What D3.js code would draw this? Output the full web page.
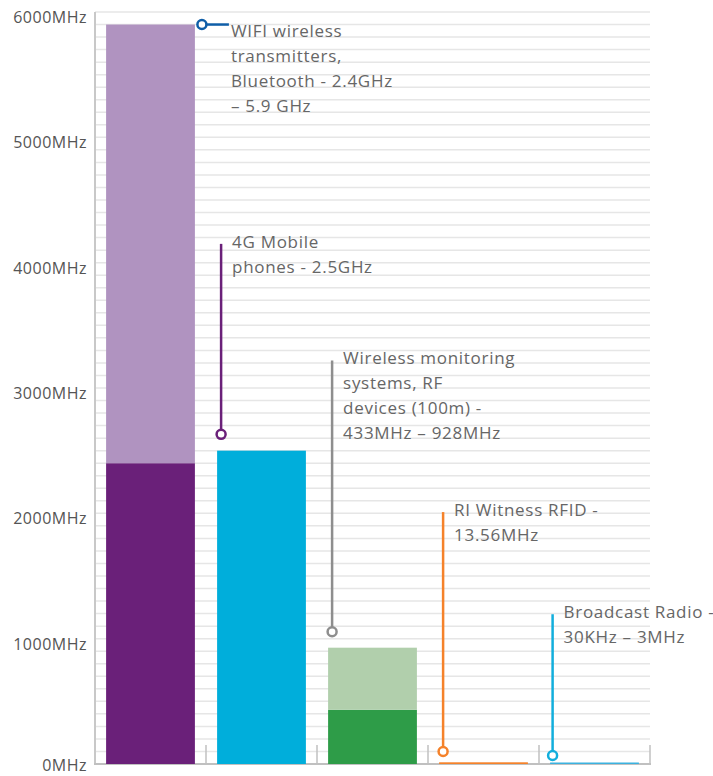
<!DOCTYPE html>
<html>
<head>
<meta charset="utf-8">
<script src="https://cdn.jsdelivr.net/npm/d3@7"></script>
<style>
  body { margin: 0; background: #fff; }
  svg text { font-family: "Open Sans", Lato, sans-serif; }
</style>
</head>
<body>
<script>
// frequency bands, MHz
const categories = ['wifi', 'mobile', 'monitoring', 'rfid', 'radio'];
const lowValues = [2400, 2500, 433, 13.56, 0.03];
const highValues = [5900, 2500, 928, 13.56, 3];
const lowColors = ['#6a2079', '#00aedb', '#2e9c48', '#f5822a', '#3cb2df'];
const highColors = ['#b093c0', '#00aedb', '#b1cfac', '#f5822a', '#3cb2df'];
const noteColors = ['#0f5ea8', '#6a2079', '#8e8e8e', '#f5822a', '#12aedc'];
const noteLines = [
    ['WIFI wireless', 'transmitters,', 'Bluetooth - 2.4GHz', '\u2013 5.9 GHz'],
    ['4G Mobile', 'phones - 2.5GHz'],
    ['Wireless monitoring', 'systems, RF', 'devices (100m) -', '433MHz \u2013 928MHz'],
    ['RI Witness RFID -', '13.56MHz'],
    ['Broadcast Radio -', '30KHz \u2013 3MHz']
];
// marker and label start for each note, MHz
const noteAnchors = [5900, 2630, 1055, 100, 68];
const noteTops = [5900, 4150, 3220, 2010, 1195];
const yTicks = [0, 1000, 2000, 3000, 4000, 5000, 6000];

const svgW = 713, svgH = 776;
const padL = 95, padR = 650, padT = 12, padB = 764;

const xScale = d3.scaleBand()
                 .domain(categories)
                 .range([padL, padR])
                 .paddingInner(0.2)
                 .paddingOuter(0.1);
const yScale = d3.scaleLinear()
                 .domain([0, 6000])
                 .range([padB, padT]);

const svg = d3.select('body')
    .append('svg')
    .attr('width', svgW)
    .attr('height', svgH);

// grid every 100MHz
svg.append('g')
   .selectAll('line')
   .data(d3.range(100, 6001, 100))
   .enter()
   .append('line')
   .attr('x1', padL)
   .attr('x2', padR)
   .attr('y1', d => yScale(d))
   .attr('y2', d => yScale(d))
   .attr('stroke', '#e6e6e6')
   .attr('stroke-width', 1.5);

// y labels
svg.append('g')
   .selectAll('text')
   .data(yTicks)
   .enter()
   .append('text')
   .attr('x', 87)
   .attr('y', d => Math.min(yScale(d) + 11, svgH - 5))
   .attr('text-anchor', 'end')
   .attr('font-size', 16)
   .attr('letter-spacing', 0.5)
   .attr('fill', '#555')
   .text(d => d + 'MHz');

// axes
svg.append('line')
   .attr('x1', padL).attr('x2', padL)
   .attr('y1', padT).attr('y2', padB + 1)
   .attr('stroke', '#c8c8c8').attr('stroke-width', 2);
svg.append('line')
   .attr('x1', padL - 1).attr('x2', padR + 1)
   .attr('y1', padB).attr('y2', padB)
   .attr('stroke', '#c0c0c0').attr('stroke-width', 2);
const step = xScale.step();
svg.append('g')
   .selectAll('line')
   .data(categories)
   .enter()
   .append('line')
   .attr('x1', (d, i) => padL + step * (i + 1))
   .attr('x2', (d, i) => padL + step * (i + 1))
   .attr('y1', padB - 19)
   .attr('y2', padB)
   .attr('stroke', '#c0c0c0')
   .attr('stroke-width', 1.5);

// bars: lower part then upper part
svg.append('g')
   .selectAll('rect')
   .data(categories)
   .enter()
   .append('rect')
   .attr('x', d => xScale(d))
   .attr('width', xScale.bandwidth())
   .attr('y', (d, i) => Math.min(yScale(lowValues[i]), padB - 1.5))
   .attr('height', (d, i) => Math.max(padB - yScale(lowValues[i]), 1.5))
   .attr('fill', (d, i) => lowColors[i]);

svg.append('g')
   .selectAll('rect')
   .data(categories)
   .enter()
   .append('rect')
   .attr('x', d => xScale(d))
   .attr('width', xScale.bandwidth())
   .attr('y', (d, i) => yScale(highValues[i]))
   .attr('height', (d, i) => yScale(lowValues[i]) - yScale(highValues[i]))
   .attr('fill', (d, i) => highColors[i]);

// annotations
categories.forEach((c, i) => {
    const g = svg.append('g');
    const col = noteColors[i];
    const cy = yScale(noteAnchors[i]);
    let cx, tx, ty;
    if (i === 0) {
        cx = xScale(c) + xScale.bandwidth() + 7;
        g.append('line')
         .attr('x1', cx + 4).attr('x2', cx + 27)
         .attr('y1', cy).attr('y2', cy)
         .attr('stroke', col).attr('stroke-width', 2.5);
        tx = cx + 29;
        ty = cy + 12;
    } else {
        cx = xScale(c) + (i === 4 ? 2.5 : 4);
        g.append('line')
         .attr('x1', cx).attr('x2', cx)
         .attr('y1', yScale(noteTops[i])).attr('y2', cy - 4)
         .attr('stroke', col).attr('stroke-width', 2.5);
        tx = cx + 11;
        ty = yScale(noteTops[i]) + 4;
    }
    g.append('circle')
     .attr('cx', cx).attr('cy', cy).attr('r', 4.5)
     .attr('fill', '#fff')
     .attr('stroke', col).attr('stroke-width', 2.5);
    g.selectAll('text')
     .data(noteLines[i])
     .enter()
     .append('text')
     .attr('x', tx)
     .attr('y', (d, j) => ty + j * 25)
     .attr('font-size', 17)
     .attr('letter-spacing', 0.7)
     .attr('fill', '#666')
     .text(d => d);
});
</script>
</body>
</html>
